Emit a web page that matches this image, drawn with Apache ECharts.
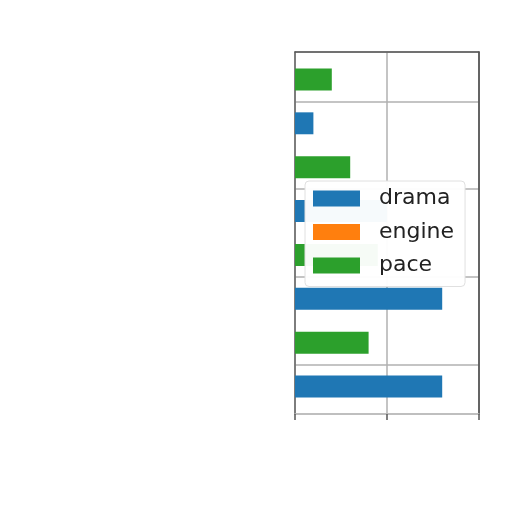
<!DOCTYPE html>
<html>
<head>
<meta charset="utf-8">
<script src="https://cdn.jsdelivr.net/npm/echarts@6/dist/echarts.min.js"></script>
<style>
html,body{margin:0;padding:0;background:#fff;}
#c{width:512px;height:512px;}
</style>
</head>
<body>
<div id="c"></div>
<script>
// categories from bottom (index 0) to top (index 3); labels not visible in the reference
const categories = ['c0', 'c1', 'c2', 'c3'];
const seriesNames = ['drama', 'engine', 'pace'];
const drama  = [1.6, 1.6, 1.0, 0.2];
const engine = [0, 0, 0, 0];
const pace   = [0.8, 0.9, 0.6, 0.4];
const xTicks = [0, 1, 2];

const colors = ['#1f77b4', '#ff7f0e', '#2ca02c'];
const BAR = 0.25;
const offsets = [-BAR, 0, BAR];
const values = [drama, engine, pace];

function makeSeries(k) {
  return {
    type: 'custom',
    name: seriesNames[k],
    itemStyle: { color: colors[k] },
    data: values[k].map((v, i) => [v, i]),
    encode: { x: 0, y: 1 },
    renderItem: function (params, api) {
      const v = api.value(0), c = api.value(1);
      const p0 = api.coord([0, c + offsets[k] + BAR / 2]);
      const p1 = api.coord([v, c + offsets[k] - BAR / 2]);
      return {
        type: 'rect',
        shape: { x: p0[0], y: p0[1], width: p1[0] - p0[0], height: p1[1] - p0[1] },
        style: { fill: colors[k] }
      };
    }
  };
}

const yMin = -0.5625, yMax = categories.length - 1 + 0.5625;
const chart = echarts.init(document.getElementById('c'));
chart.setOption({
  backgroundColor: '#ffffff',
  animation: false,
  grid: { left: 295, right: 33, top: 52, bottom: 98, show: false },
  xAxis: [
    {
      type: 'value', position: 'bottom', min: xTicks[0], max: xTicks[xTicks.length - 1], interval: 1,
      axisLine: { show: true, onZero: false, lineStyle: { color: '#bdbdbd', width: 1.5 } },
      axisTick: { show: true, length: 6, lineStyle: { color: '#555', width: 1.5 } },
      axisLabel: { show: false },
      splitLine: { show: true, lineStyle: { color: '#b0b0b0', width: 1.5 } }
    },
    {
      type: 'value', position: 'top', min: xTicks[0], max: xTicks[xTicks.length - 1], interval: 1,
      axisLine: { show: true, onZero: false, lineStyle: { color: '#555', width: 1.5 } },
      axisTick: { show: false }, axisLabel: { show: false }, splitLine: { show: false }
    }
  ],
  yAxis: [
    {
      type: 'value', position: 'left', min: yMin, max: yMax, splitNumber: 4,
      axisLine: { show: true, onZero: false, lineStyle: { color: '#666', width: 1.5 } },
      axisTick: { show: false }, axisLabel: { show: false },
      splitLine: { show: true, lineStyle: { color: '#b0b0b0', width: 1.5 } }
    },
    {
      type: 'value', position: 'right', min: yMin, max: yMax, splitNumber: 4,
      axisLine: { show: true, onZero: false, lineStyle: { color: '#444', width: 1.5 } },
      axisTick: { show: false }, axisLabel: { show: false }, splitLine: { show: false }
    }
  ],
  legend: {
    orient: 'vertical',
    left: 305, top: 181,
    icon: 'rect',
    itemWidth: 47, itemHeight: 16, itemGap: 11.5,
    padding: [6.5, 11, 10, 8],
    backgroundColor: 'rgba(255,255,255,0.96)',
    borderColor: '#e0e0e0', borderWidth: 1, borderRadius: 4,
    textStyle: { fontFamily: 'DejaVu Sans', fontSize: 22, color: '#222', lineHeight: 22, padding: [0, 0, 0, 14] },
    data: seriesNames
  },
  series: [makeSeries(0), makeSeries(1), makeSeries(2)]
});
</script>
</body>
</html>
